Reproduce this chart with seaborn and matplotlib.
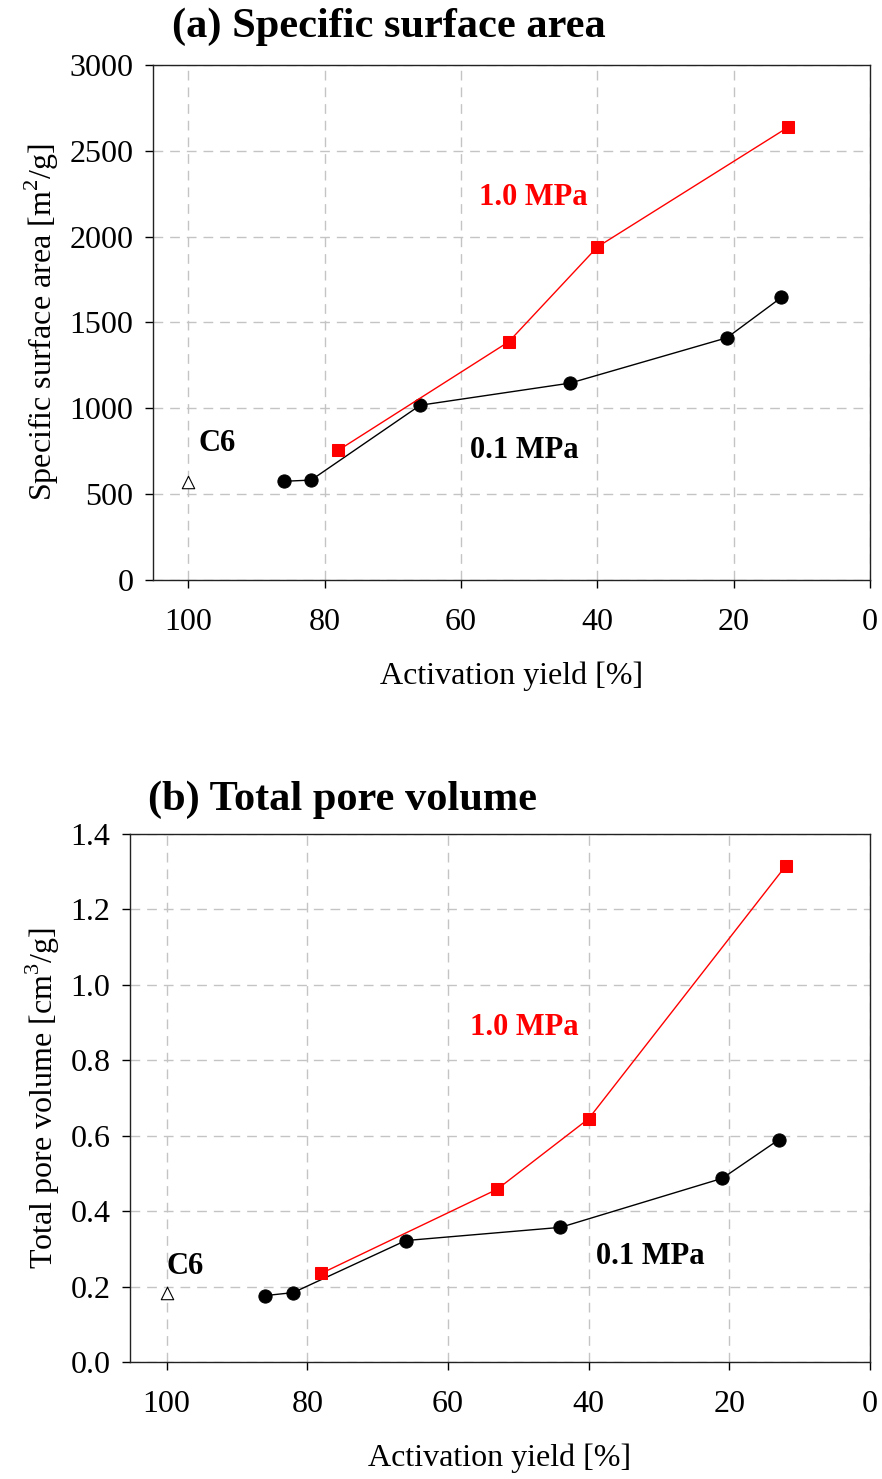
import matplotlib
matplotlib.use("Agg")
import matplotlib.pyplot as plt
import seaborn as sns
import pandas as pd

# ---- data ----
yield_01 = [86, 82, 66, 44, 21, 13]
ssa_01 = [575, 582, 1018, 1147, 1411, 1646]
tpv_01 = [0.176, 0.184, 0.322, 0.357, 0.487, 0.589]

yield_10 = [78, 53, 40, 12]
ssa_10 = [756, 1388, 1940, 2638]
tpv_10 = [0.235, 0.458, 0.645, 1.315]

yield_c6 = [100]
ssa_c6 = [570]
tpv_c6 = [0.184]

xticks = [100, 80, 60, 40, 20, 0]
ssa_ticks = [0, 500, 1000, 1500, 2000, 2500, 3000]
tpv_ticks = [0.0, 0.2, 0.4, 0.6, 0.8, 1.0, 1.2, 1.4]

sns.set_style("white")
plt.rcParams["font.family"] = ["Liberation Serif", "DejaVu Serif"]
plt.rcParams["mathtext.fontset"] = "custom"
plt.rcParams["mathtext.rm"] = "Liberation Serif"
plt.rcParams["text.color"] = "black"
plt.rcParams["axes.labelcolor"] = "black"

fig = plt.figure(figsize=(8.82, 14.79), dpi=100)
ax1 = fig.add_axes([153/882, 1-580/1479, 717/882, 515/1479])
ax2 = fig.add_axes([130/882, 1-1362/1479, 740/882, 528/1479])

df01 = pd.DataFrame({"yield": yield_01, "ssa": ssa_01, "tpv": tpv_01})
df10 = pd.DataFrame({"yield": yield_10, "ssa": ssa_10, "tpv": tpv_10})
dfc6 = pd.DataFrame({"yield": yield_c6, "ssa": ssa_c6, "tpv": tpv_c6})

tick_fs = 23
lab_fs = 23
ann_fs = 22

def style(ax, ylim, yticks, ylabel, fmt):
    ax.set_xlim(105.2, 0)
    ax.set_ylim(*ylim)
    ax.set_xticks(xticks)
    ax.set_yticks(yticks)
    ax.set_yticklabels([fmt(v) for v in yticks])
    ax.grid(True, color="#c4c4c4", linestyle=(0, (7, 5)), linewidth=1.0)
    ax.set_axisbelow(True)
    for s in ax.spines.values():
        s.set_visible(True)
        s.set_color("#222222")
        s.set_linewidth(1.0)
    ax.tick_params(axis="both", direction="out", length=6, width=1.0,
                   labelsize=tick_fs, colors="black", pad=8,
                   bottom=True, left=True, top=False, right=False)
    ax.tick_params(axis="x", pad=14)
    ax.set_xlabel("Activation yield [%]", fontsize=lab_fs, labelpad=18, color="black")
    ax.set_ylabel(ylabel, fontsize=lab_fs, labelpad=6, color="black")

for ax, col, ylim, yt, ylabel, fmt in [
    (ax1, "ssa", (0, 3000), ssa_ticks, r"Specific surface area [m$^\mathregular{2}$/g]", lambda v: f"{v:d}"),
    (ax2, "tpv", (0, 1.4), tpv_ticks, r"Total pore volume [cm$^\mathregular{3}$/g]", lambda v: f"{v:.1f}"),
]:
    sns.lineplot(data=df01, x="yield", y=col, ax=ax, color="black", linewidth=1.0,
                 marker="o", markersize=9.5, markeredgecolor="black", sort=False)
    sns.lineplot(data=df10, x="yield", y=col, ax=ax, color="red", linewidth=1.0,
                 marker="s", markersize=8, markeredgecolor="red", sort=False)
    sns.scatterplot(data=dfc6, x="yield", y=col, ax=ax, marker="^", s=80,
                    facecolor="white", edgecolor="black", linewidth=0.8, zorder=5)
    style(ax, ylim, yt, ylabel, fmt)

# annotations
ax1.text(57.3, 2227, "1.0 MPa", color="red", fontsize=ann_fs, fontweight="bold", ha="left", va="center")
ax1.text(58.7, 756, "0.1 MPa", color="black", fontsize=ann_fs, fontweight="bold", ha="left", va="center")
ax1.text(98.5, 797, "C6", color="black", fontsize=ann_fs, fontweight="bold", ha="left", va="center")

ax2.text(56.8, 0.887, "1.0 MPa", color="red", fontsize=ann_fs, fontweight="bold", ha="left", va="center")
ax2.text(38.9, 0.279, "0.1 MPa", color="black", fontsize=ann_fs, fontweight="bold", ha="left", va="center")
ax2.text(100, 0.252, "C6", color="black", fontsize=ann_fs, fontweight="bold", ha="left", va="center")

fig.text(172/882, 1-27/1479, "(a) Specific surface area", fontsize=30.5, fontweight="bold", ha="left", va="center", color="black")
fig.text(148/882, 1-800/1479, "(b) Total pore volume", fontsize=30.5, fontweight="bold", ha="left", va="center", color="black")

fig.savefig("out.png", dpi=100)
